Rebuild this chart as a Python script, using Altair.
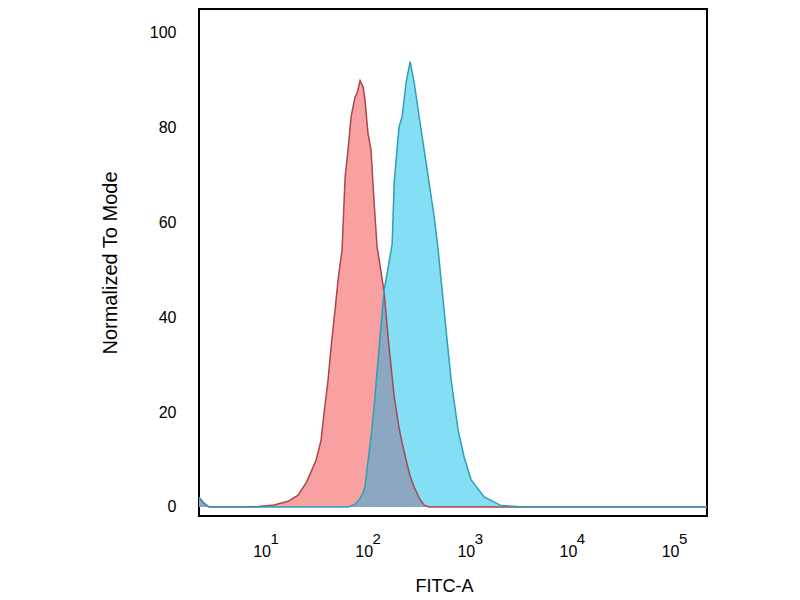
import altair as alt
import numpy as np
import pandas as pd

# FITC-A intensity grid (log axis) and normalized-to-mode histogram heights
fitc = [2.44, 2.73, 3.06, 4.01, 6.30, 9.25, 13.3, 18.2, 22.8, 27.3,
        30.5, 34.2, 38.3, 40.9, 44.8, 48.0, 52.5, 56.1, 61.4, 65.8,
        70.3, 75.3, 82.4, 86.1, 92.2, 98.6, 103, 110, 118, 126,
        135, 148, 158, 177, 190, 199, 212, 222, 238, 260,
        285, 312, 349, 391, 437, 490, 536, 573, 641, 718,
        841, 964, 1127, 1512, 2218, 3254, 4667, 8591, 230000]
control = [2.0, 0.8, 0, 0, 0, 0.1, 0.4, 1.2, 2.5, 5.1,
           7.4, 9.9, 14.1, 19.8, 26.8, 33.8, 41.6, 47.9, 54.2, 69.6,
           75.3, 82.3, 86.5, 87.2, 89.9, 88.6, 85.9, 78.9, 75.3, 64.8,
           55.0, 49.5, 45.5, 33.8, 27.4, 23.2, 19.4, 16.7, 13.5, 9.9,
           6.5, 4.2, 1.9, 0.4, 0, 0, 0, 0, 0, 0,
           0, 0, 0, 0, 0, 0, 0, 0, 0]
stained = [2.0, 0.8, 0, 0, 0, 0, 0, 0, 0, 0,
           0, 0, 0, 0, 0, 0, 0, 0, 0, 0,
           0, 0.2, 0.6, 1.0, 1.8, 3.0, 4.3, 9.5, 14.8, 20.7,
           28.3, 38.5, 45.5, 51.5, 55.5, 68.4, 75.3, 80.2, 82.3, 89.5,
           93.9, 89.5, 82.3, 75.3, 68.4, 61.2, 54.2, 47.9, 37.3, 26.8,
           16.2, 10.5, 5.7, 2.1, 0.3, 0.1, 0, 0, 0]

decades = [10, 100, 1000, 10000, 100000]
exponents = ["1", "2", "3", "4", "5"]
y_ticks = [0, 20, 40, 60, 80, 100]

df = pd.DataFrame({"fitc": fitc, "control": control, "stained": stained})
df["overlap"] = np.minimum(df["control"], df["stained"])
exp_df = pd.DataFrame({"fitc": decades, "exp": exponents})

FONT = "Liberation Sans"
x_scale = alt.Scale(type="log", domain=[2.44, 230000], nice=False)
y_scale = alt.Scale(domain=[-1.9, 105], nice=False, zero=False)

x_axis = alt.Axis(
    values=decades,
    labelExpr="'10'",
    title="FITC-A",
    labelBaseline="middle",
    labelPadding=35,
    titlePadding=18,
    titleX=245,
    titleAlign="center",
)
y_axis = alt.Axis(
    values=y_ticks,
    title="Normalized To Mode",
    titleFontSize=20,
    labelPadding=23,
    titlePadding=29,
)

x_enc = alt.X("fitc:Q", scale=x_scale, axis=x_axis)


def y_enc(field):
    return alt.Y(f"{field}:Q", scale=y_scale, axis=y_axis)


base = alt.Chart(df)

red_fill = base.mark_area(color="#f9a1a1").encode(
    x=x_enc, y=y_enc("control"), y2=alt.datum(0)
)
blue_fill = base.mark_area(color="#84dff5").encode(
    x=x_enc, y=y_enc("stained"), y2=alt.datum(0)
)
both_fill = base.mark_area(color="#8ba7c2").encode(
    x=x_enc, y=y_enc("overlap"), y2=alt.datum(0)
)
red_line = base.mark_line(color="#a8474c", strokeWidth=1.5).encode(
    x=x_enc, y=y_enc("control")
)
blue_line = base.mark_line(color="#2e9fb6", strokeWidth=1.5).encode(
    x=x_enc, y=y_enc("stained")
)
sup = (
    alt.Chart(exp_df)
    .mark_text(font=FONT, fontSize=15, dx=13, baseline="middle", color="black")
    .encode(
        x=x_enc,
        y=alt.value(530),
        text="exp:N",
    )
)

chart = (
    alt.layer(red_fill, blue_fill, both_fill, red_line, blue_line, sup)
    .properties(
        width=508,
        height=507,
        padding={"left": 92, "top": 1, "right": 5, "bottom": 5},
        background="white",
    )
    .configure_view(stroke="black", strokeWidth=2)
    .configure_axis(
        domain=False,
        grid=False,
        ticks=False,
        tickSize=0,
        labelFont=FONT,
        labelFontSize=16,
        labelColor="black",
        titleFont=FONT,
        titleFontSize=18,
        titleFontWeight="normal",
        titleColor="black",
    )
)

chart.save("out.html", embed_options={"renderer": "svg", "actions": False})
